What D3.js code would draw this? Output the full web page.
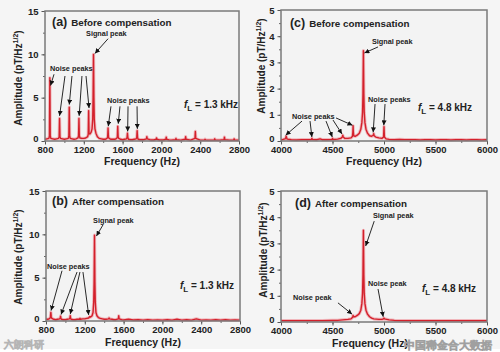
<!DOCTYPE html>
<html><head><meta charset="utf-8">
<script src="https://cdn.jsdelivr.net/npm/d3@7"></script>
<style>
body{margin:0;background:#f5f5f5}
svg{display:block}
text{font-family:"Liberation Sans",Arial,sans-serif;font-weight:bold;fill:#222}
</style></head><body>
<svg id="c" width="500" height="352"></svg>
<script>
// ---------- data ----------
const freqA=[800,820,840,846,850,854,860,880,900,920,940,946,950,954,960,980,1000,1020,1040,1046,1050,1054,1060,1080,1100,1120,1140,1146,1150,1154,1160,1180,1200,1220,1240,1246,1250,1254,1262,1275,1285,1292,1296,1300,1304,1308,1315,1325,1340,1360,1380,1400,1420,1440,1446,1450,1454,1460,1480,1500,1520,1540,1546,1550,1554,1560,1580,1600,1620,1640,1646,1650,1654,1660,1680,1700,1720,1740,1746,1750,1754,1760,1780,1800,1820,1846,1850,1854,1880,1900,1920,1946,1950,1954,1980,2000,2020,2046,2050,2054,2080,2100,2146,2150,2154,2200,2246,2250,2254,2300,2346,2350,2354,2400,2446,2450,2454,2500,2546,2550,2554,2600,2646,2650,2654,2700,2746,2750,2754,2800];
const ampA=[0.2,0.25,0.3,0.6,7.3,0.6,0.3,0.25,0.2,0.25,0.3,0.5,2.6,0.5,0.3,0.25,0.2,0.25,0.3,0.6,3.9,0.6,0.3,0.25,0.2,0.25,0.35,0.6,2.6,0.6,0.35,0.3,0.3,0.35,0.5,0.8,3.5,0.9,0.8,1.0,1.4,2.5,5,10,5,2.5,1.4,0.9,0.5,0.3,0.25,0.2,0.2,0.3,0.5,1.5,0.5,0.3,0.2,0.2,0.2,0.3,0.5,1.7,0.5,0.3,0.2,0.15,0.2,0.25,0.4,0.9,0.4,0.2,0.15,0.15,0.2,0.25,0.4,1.2,0.4,0.2,0.15,0.15,0.15,0.25,0.5,0.25,0.15,0.12,0.12,0.2,0.35,0.2,0.12,0.12,0.12,0.2,0.45,0.2,0.12,0.1,0.15,0.3,0.15,0.1,0.2,0.5,0.2,0.1,0.3,1.1,0.3,0.1,0.12,0.2,0.12,0.1,0.12,0.25,0.12,0.1,0.15,0.45,0.15,0.1,0.12,0.25,0.12,0.1];

const freqB=[800,820,840,846,850,854,860,880,900,920,940,946,950,954,960,980,1000,1020,1040,1046,1050,1054,1060,1080,1100,1120,1146,1150,1154,1180,1200,1220,1240,1250,1260,1275,1285,1292,1296,1300,1304,1308,1315,1325,1340,1360,1380,1400,1420,1446,1450,1454,1480,1500,1520,1546,1550,1554,1580,1600,1650,1700,1750,1800,1850,1900,1950,2000,2050,2100,2150,2200,2250,2300,2350,2400,2450,2500,2550,2600,2650,2700,2750,2800];
const ampB=[0.2,0.2,0.3,0.5,1.0,0.5,0.3,0.2,0.15,0.2,0.25,0.3,0.55,0.3,0.2,0.15,0.15,0.2,0.25,0.3,0.6,0.3,0.2,0.15,0.15,0.2,0.2,0.3,0.2,0.25,0.25,0.3,0.35,0.5,0.45,0.6,1.0,2.2,4.5,9.9,4.5,2.2,1.0,0.6,0.4,0.3,0.25,0.2,0.2,0.25,0.35,0.25,0.2,0.15,0.15,0.25,0.6,0.25,0.15,0.12,0.2,0.12,0.15,0.1,0.15,0.1,0.12,0.1,0.15,0.1,0.2,0.1,0.15,0.1,0.25,0.1,0.12,0.1,0.15,0.1,0.15,0.1,0.12,0.1];

const freqC=[4000,4020,4040,4046,4050,4054,4060,4100,4150,4200,4250,4296,4300,4304,4350,4380,4400,4450,4496,4500,4504,4550,4580,4596,4600,4604,4620,4650,4680,4694,4698,4700,4702,4706,4720,4740,4760,4775,4785,4792,4796,4800,4804,4808,4815,4825,4840,4860,4880,4896,4900,4904,4920,4950,4980,4996,5000,5004,5020,5050,5100,5150,5200,5250,5300,5350,5400,5450,5500,5550,5600,5650,5700,5750,5800,5850,5900,5950,6000];
const ampC=[0.05,0.06,0.08,0.12,0.18,0.12,0.07,0.05,0.04,0.05,0.05,0.06,0.1,0.06,0.05,0.08,0.05,0.05,0.06,0.1,0.06,0.07,0.1,0.15,0.22,0.15,0.1,0.1,0.12,0.18,0.35,0.58,0.35,0.2,0.18,0.22,0.3,0.45,0.7,1.1,1.8,3.45,1.8,1.1,0.7,0.45,0.3,0.2,0.18,0.22,0.28,0.2,0.15,0.12,0.1,0.15,0.55,0.15,0.08,0.06,0.05,0.06,0.05,0.05,0.05,0.04,0.05,0.05,0.04,0.05,0.05,0.04,0.05,0.05,0.04,0.05,0.05,0.04,0.05];

const freqD=[4000,4100,4200,4300,4400,4500,4550,4600,4650,4680,4696,4700,4704,4720,4740,4760,4775,4785,4792,4796,4800,4804,4808,4815,4825,4840,4860,4880,4900,4950,4980,4996,5000,5004,5050,5100,5200,5300,5400,5500,5600,5700,5800,5900,6000];
const ampD=[0.05,0.05,0.05,0.05,0.05,0.06,0.06,0.08,0.1,0.12,0.18,0.25,0.2,0.2,0.25,0.32,0.45,0.7,1.1,1.8,3.5,1.8,1.1,0.7,0.45,0.3,0.2,0.15,0.12,0.1,0.1,0.12,0.15,0.12,0.08,0.06,0.05,0.05,0.05,0.05,0.05,0.05,0.05,0.05,0.05];

const xTicksLow=[800,1200,1600,2000,2400,2800];
const xTicksHigh=[4000,4500,5000,5500,6000];
const yTicksLow=[0,5,10,15];
const yTicksHigh=[0,1,2,3,4,5];

// annotations in data units: [text, freq, amp]
const labelsA=[["Signal peak",1223,12.1],["Noise peaks",852,8.1],["Noise peaks",1439,4.4]];
const arrowsA=[[1450,11.8,1315,10.1],[893,7.7,857,6.4],[1006,7.5,950,2.9],[1078,7.5,1050,4.2],[1181,7.5,1152,2.9],[1223,7.5,1254,3.8],
               [1480,4.0,1452,1.7],[1573,4.0,1555,2.0],[1656,4.0,1652,1.1],[1749,4.0,1752,1.4]];
const labelsB=[["Signal peak",1285,11.3],["Noise peaks",810,6.0]];
const arrowsB=[[1388,11.1,1320,9.8],[965,5.8,852,1.2],[1120,5.65,955,0.75],[1150,5.65,1050,0.8],[1181,5.65,1240,0.7]];
const labelsC=[["Signal peak",4883,3.7],["Noise peaks",4107,0.84],["Noise peaks",4845,1.49]];
const arrowsC=[[4942,3.59,4810,3.36],[4204,0.76,4045,0.22],[4282,0.76,4300,0.15],[4437,0.76,4498,0.15],[4505,0.8,4592,0.27],[4534,0.88,4694,0.6],
               [4913,1.41,4895,0.33],[5010,1.41,4998,0.6]];
const labelsD=[["Signal peak",4893,3.97],["Noise peak",4117,0.84],["Noise peak",4845,1.37]];
const arrowsD=[[4905,3.85,4822,2.9],[4553,0.73,4690,0.3],[4942,1.26,4992,0.2]];

const panels=[
 {id:"(a)",title:"Before compensation",fl:"1.3",box:[45,239,11,141],xd:[800,2800],yd:[0,15],xt:xTicksLow,yt:yTicksLow,xm:200,ym:2.5,
  f:freqA,a:ampA,labels:labelsA,arrows:arrowsA,titlePos:[872,13.3],flPos:[2233,3.8],ylab:[22,78],xlab:[142,165]},
 {id:"(b)",title:"After compensation",fl:"1.3",box:[46,240,191,321],xd:[800,2800],yd:[0,15],xt:xTicksLow,yt:yTicksLow,xm:200,ym:2.5,
  f:freqB,a:ampB,labels:labelsB,arrows:arrowsB,titlePos:[862,13.4],flPos:[2181,3.7],ylab:[22,257],xlab:[143,346]},
 {id:"(c)",title:"Before compensation",fl:"4.8",box:[281,487,10,141],xd:[4000,6000],yd:[0,5],xt:xTicksHigh,yt:yTicksHigh,xm:250,ym:0.5,
  f:freqC,a:ampC,labels:labelsC,arrows:arrowsC,titlePos:[4087,4.35],flPos:[5330,1.15],ylab:[265,66],xlab:[384,165]},
 {id:"(d)",title:"After compensation",fl:"4.8",box:[281,487,191,322],xd:[4000,6000],yd:[0,5],xt:xTicksHigh,yt:yTicksHigh,xm:250,ym:0.5,
  f:freqD,a:ampD,labels:labelsD,arrows:arrowsD,titlePos:[4136,4.39],flPos:[5369,1.15],ylab:[267,250],xlab:[370,347]}
];

const svg=d3.select("#c");
svg.append("rect").attr("width",500).attr("height",352).attr("fill","#f5f5f5");
svg.append("rect").attr("y",349).attr("width",500).attr("height",3).attr("fill","#ffffff");
const defs=svg.append("defs");
defs.append("marker").attr("id","ah").attr("viewBox","0 0 6 6").attr("refX",6).attr("refY",3)
  .attr("markerWidth",5).attr("markerHeight",5).attr("markerUnits","userSpaceOnUse").attr("orient","auto")
  .append("path").attr("d","M0,0L6,3L0,6Z").attr("fill","#111");

panels.forEach(p=>{
  const [x0,x1,y0,y1]=p.box;
  const x=d3.scaleLinear().domain(p.xd).range([x0,x1]);
  const y=d3.scaleLinear().domain(p.yd).range([y1,y0]);
  const g=svg.append("g");
  g.append("rect").attr("x",x0).attr("y",y0).attr("width",x1-x0).attr("height",y1-y0).attr("fill","#f3f3f3");
  // minor ticks
  const xMinor=d3.range(p.xd[0],p.xd[1]+1,p.xm);
  const yMinor=d3.range(p.yd[0],p.yd[1]+1e-9,p.ym);
  g.append("g").attr("transform",`translate(0,${y1})`).call(d3.axisBottom(x).tickValues(xMinor).tickSize(2).tickFormat(""))
    .call(s=>{s.select(".domain").remove();s.selectAll("line").attr("stroke","#666");});
  g.append("g").attr("transform",`translate(${x0},0)`).call(d3.axisLeft(y).tickValues(yMinor).tickSize(2).tickFormat(""))
    .call(s=>{s.select(".domain").remove();s.selectAll("line").attr("stroke","#666");});
  // major
  const xa=g.append("g").attr("transform",`translate(0,${y1})`).call(d3.axisBottom(x).tickValues(p.xt).tickSize(3.5).tickPadding(2).tickFormat(d3.format("d")));
  xa.select(".domain").remove(); xa.selectAll("line").attr("stroke","#555");
  xa.selectAll("text").attr("font-size",9.5).attr("fill","#222").attr("font-family","Liberation Sans, Arial").attr("font-weight","bold");
  const ya=g.append("g").attr("transform",`translate(${x0},0)`).call(d3.axisLeft(y).tickValues(p.yt).tickSize(3.5).tickPadding(3).tickFormat(d3.format("d")));
  ya.select(".domain").remove(); ya.selectAll("line").attr("stroke","#555");
  ya.selectAll("text").attr("font-size",9.5).attr("fill","#222").attr("font-family","Liberation Sans, Arial").attr("font-weight","bold")
    .attr("dy",d=>d===0?"0.05em":"0.32em");

  // data line
  const pts=p.f.map((f,i)=>[f,p.a[i]]);
  const line=d3.line().x(d=>x(d[0])).y(d=>y(d[1]));
  g.append("path").datum(pts).attr("d",line).attr("fill","none").attr("stroke","#ee8f98").attr("stroke-width",3.2).attr("stroke-opacity",0.6).attr("stroke-linejoin","round");
  g.append("path").datum(pts).attr("d",line).attr("fill","none").attr("stroke","#d3202b").attr("stroke-width",1.4).attr("stroke-linejoin","round");

  // frame
  g.append("rect").attr("x",x0).attr("y",y0).attr("width",x1-x0).attr("height",y1-y0).attr("fill","none").attr("stroke","#7a7a7a").attr("stroke-width",1.5);

  // title
  const t=g.append("text").attr("x",x(p.titlePos[0])).attr("y",y(p.titlePos[1]));
  t.append("tspan").attr("font-size",12.5).text(p.id);
  t.append("tspan").attr("font-size",9.8).attr("dx",4).text(p.title);

  // fL
  const fl=g.append("text").attr("x",x(p.flPos[0])).attr("y",y(p.flPos[1])).attr("font-size",10);
  fl.append("tspan").attr("font-style","italic").text("f");
  fl.append("tspan").attr("font-size",8).attr("dy",3).text("L");
  fl.append("tspan").attr("dy",-3).text(" = "+p.fl+" kHz");

  // annotation labels
  p.labels.forEach(l=>{
    g.append("text").attr("x",x(l[1])).attr("y",y(l[2])).attr("font-size",7.3).attr("fill","#222").text(l[0]);
  });
  p.arrows.forEach(a=>{
    g.append("line").attr("x1",x(a[0])).attr("y1",y(a[1])).attr("x2",x(a[2])).attr("y2",y(a[3]))
     .attr("stroke","#111").attr("stroke-width",0.9).attr("marker-end","url(#ah)");
  });

  // axis titles
  const yl=g.append("text").attr("transform",`translate(${p.ylab[0]},${p.ylab[1]}) rotate(-90)`).attr("text-anchor","middle").attr("font-size",10);
  yl.append("tspan").text("Amplitude (pT/Hz");
  yl.append("tspan").attr("font-size",7).attr("dy",-4).text("1/2");
  yl.append("tspan").attr("dy",4).text(")");
  g.append("text").attr("x",p.xlab[0]).attr("y",p.xlab[1]).attr("text-anchor","middle").attr("font-size",10.5).text("Frequency (Hz)");
});

// watermarks (kept clear of the axis labels)
svg.append("text").attr("x",404).attr("y",349).attr("font-size",11).attr("font-weight","normal")
  .attr("font-family","Noto Sans CJK SC").style("fill","#ffffff").attr("stroke","#a0a0a0").attr("stroke-width",0.6)
  .text("中国稀金合大数据");
svg.append("text").attr("x",4).attr("y",348).attr("font-size",10).attr("font-weight","normal")
  .attr("font-family","Noto Sans CJK SC").style("fill","#ffffff").attr("stroke","#b5b5b5").attr("stroke-width",0.6)
  .text("六朗科研");
</script></body></html>
